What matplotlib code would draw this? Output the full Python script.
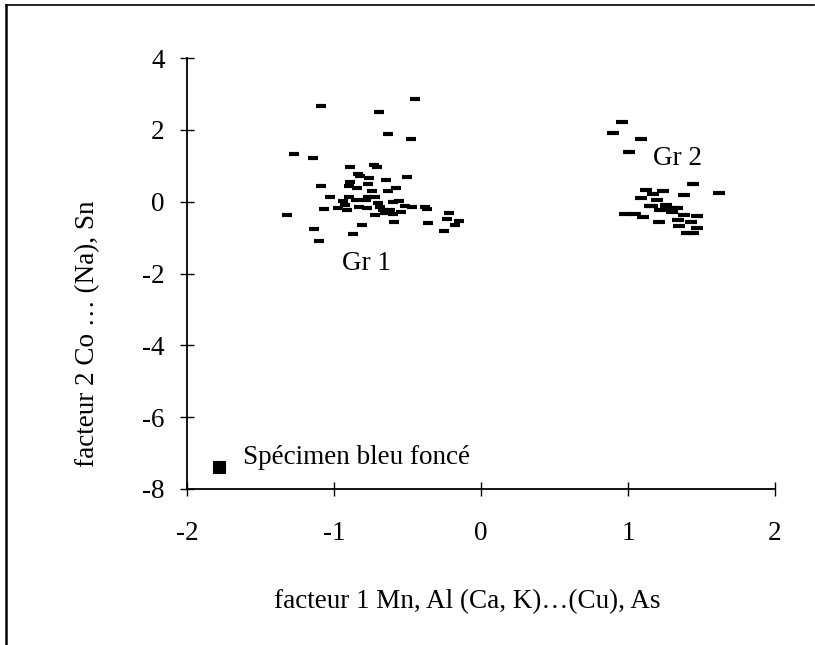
import matplotlib
matplotlib.use("Agg")
import matplotlib.pyplot as plt
from matplotlib.lines import Line2D

plt.rcParams['font.family'] = ['Liberation Serif', 'DejaVu Serif']
plt.rcParams['axes.unicode_minus'] = False

# Group 1 (factor 1, factor 2)
gr1_x = [-0.449, -1.088, -0.692, -0.631, -0.478, -1.27, -1.14, -0.891, -0.728, -0.707,
         -0.835, -0.823, -0.762, -0.644, -0.505, -1.09, -0.891, -0.90, -0.846, -0.77,
         -0.744, -0.576, -0.631, -1.03, -0.90, -0.85, -0.767, -0.72, -0.94, -0.925,
         -0.78, -0.70, -0.597, -0.558, -0.517, -0.467, -1.068, -0.97, -0.914, -0.83,
         -0.773, -0.687, -0.665, -0.62, -0.723, -0.653, -0.60, -0.546, -0.38, -0.37,
         -1.318, -0.216, -0.233, -0.147, -0.179, -0.254, -0.358, -0.59, -0.81, -1.138,
         -0.873, -1.104]
gr1_y = [2.85, 2.65, 2.49, 1.88, 1.75, 1.33, 1.22, 0.955, 1.01, 0.955,
         0.78, 0.71, 0.66, 0.60, 0.69, 0.44, 0.55, 0.43, 0.38, 0.50,
         0.31, 0.37, 0.29, 0.14, 0.12, 0.05, 0.14, 0.14, 0.02, -0.10,
         0.04, -0.05, -0.02, 0.02, -0.11, -0.16, -0.21, -0.18, -0.22, -0.14,
         -0.18, -0.16, -0.23, -0.24, -0.38, -0.32, -0.35, -0.30, -0.16, -0.21,
         -0.38, -0.31, -0.49, -0.53, -0.66, -0.83, -0.60, -0.58, -0.64, -0.75,
         -0.90, -1.10]

# Group 2
gr2_x = [0.96, 0.90, 1.09, 1.01, 1.44, 1.62, 1.12, 1.24, 1.17, 1.38,
         1.09, 1.20, 1.16, 1.26, 1.33, 1.22, 0.98, 1.05, 1.10, 1.30,
         1.38, 1.47, 1.21, 1.34, 1.43, 1.35, 1.47, 1.40, 1.44, 1.26,
         1.15, 1.29]
gr2_y = [2.21, 1.92, 1.74, 1.39, 0.49, 0.24, 0.32, 0.30, 0.20, 0.18,
         0.11, 0.04, -0.11, -0.09, -0.17, -0.23, -0.35, -0.35, -0.44, -0.30,
         -0.37, -0.39, -0.56, -0.51, -0.56, -0.68, -0.72, -0.86, -0.86, -0.19,
         -0.13, -0.18]

# Dark blue specimen
spec_x = [-1.78]
spec_y = [-7.40]

x_ticks = [-2, -1, 0, 1, 2]
y_ticks = [4, 2, 0, -2, -4, -6, -8]

fig = plt.figure(figsize=(8.15, 6.45), dpi=100)
ax = fig.add_axes([187/815, (645-489)/645, 588/815, 431/645])

ax.plot(gr1_x, gr1_y, linestyle='none', marker='_', markersize=6.5,
        markeredgewidth=3.0, color='black')
ax.plot(gr2_x, gr2_y, linestyle='none', marker='_', markersize=8.8,
        markeredgewidth=3.0, color='black')
ax.plot(spec_x, spec_y, linestyle='none', marker='s', markersize=9,
        markeredgewidth=0.8, color='black')

ax.set_xlim(-2, 2)
ax.set_ylim(-8, 4)
ax.set_xticks(x_ticks)
ax.set_yticks(y_ticks)
ax.set_xticklabels([str(v) for v in x_ticks])
ax.set_yticklabels([str(v) for v in y_ticks])

for s in ['top', 'right']:
    ax.spines[s].set_visible(False)
for s in ['left', 'bottom']:
    ax.spines[s].set_linewidth(1.3)

fs = 19.5
ax.tick_params(axis='both', direction='inout', length=10, width=1.0,
               labelsize=fs, colors='black')
ax.tick_params(axis='x', pad=18)
ax.tick_params(axis='y', pad=11)

ax.text(-0.78, -1.72, 'Gr 1', fontsize=fs, ha='center', va='center')
ax.text(1.34, 1.21, 'Gr 2', fontsize=fs, ha='center', va='center')
ax.text(-1.62, -7.12, 'Spécimen bleu foncé', fontsize=fs, ha='left', va='center')

ax.set_xlabel('facteur 1 Mn, Al (Ca, K)…(Cu), As', fontsize=fs)
ax.set_ylabel('facteur 2 Co … (Na), Sn', fontsize=fs)
ax.xaxis.set_label_coords(0.476, -0.232)
ax.yaxis.set_label_coords(-0.148, 0.36)

# figure frame (top and left edges)
fig.add_artist(Line2D([6/815, 814/815], [1 - 4.5/645, 1 - 4.5/645],
                      transform=fig.transFigure, color='black', linewidth=1.2))
fig.add_artist(Line2D([6/815, 6/815], [0, 1 - 4.5/645],
                      transform=fig.transFigure, color='black', linewidth=1.8))

fig.savefig('out.png', dpi=100)
